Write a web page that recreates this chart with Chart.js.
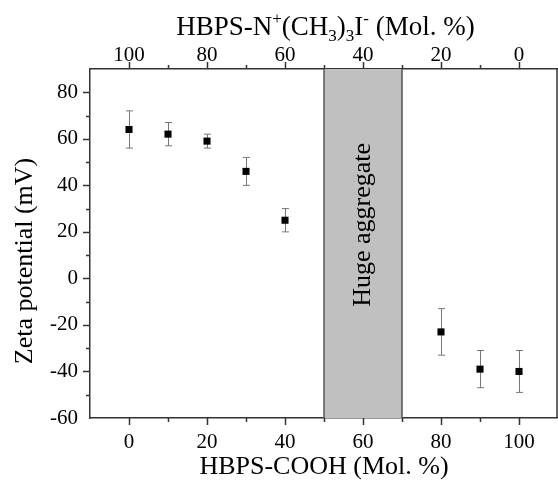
<!DOCTYPE html>
<html>
<head>
<meta charset="utf-8">
<script src="https://cdn.jsdelivr.net/npm/chart.js@4"></script>
<style>
  body { margin: 0; background: #fff; }
  #chartCanvas { display: block; }
</style>
</head>
<body>
<canvas id="chartCanvas" width="558" height="481"></canvas>
<script>
"use strict";

// HBPS-COOH content (Mol. %) and zeta potential (mV) with error
const cooh = [0, 10, 20, 30, 40, 80, 90, 100];
const zeta = [64, 62, 59, 46, 25, -23, -39, -40];
const zetaErr = [8, 5, 3, 6, 5, 10, 8, 9];

// shaded region where no measurement was possible
const aggregateRange = [50, 70];
const aggregateText = "Huge aggregate";

const xTickLabels = [0, 20, 40, 60, 80, 100];
const yTickLabels = [-60, -40, -20, 0, 20, 40, 60, 80];

const serif = '"Liberation Serif", "Times New Roman", serif';
const axisColor = "#333";

// draws tick marks pointing outward (major long, minor short)
const tickMarks = {
    id: "tickMarks",
    afterDraw(chart) {
        const ctx = chart.ctx;
        const a = chart.chartArea;
        ctx.save();
        ctx.strokeStyle = axisColor;
        ctx.lineWidth = 1.5;
        ["x", "x2", "y"].forEach(function (id) {
            const s = chart.scales[id];
            s.ticks.forEach(function (t) {
                const v = t.value;
                if (v <= s.min || v >= s.max) return;
                const len = (v % 20 === 0) ? 7 : 4;
                const p = Math.round(s.getPixelForValue(v)) + 0.5;
                ctx.beginPath();
                if (id === "x") { ctx.moveTo(p, a.bottom); ctx.lineTo(p, a.bottom + len); }
                else if (id === "x2") { ctx.moveTo(p, a.top); ctx.lineTo(p, a.top - len); }
                else { ctx.moveTo(a.left, p); ctx.lineTo(a.left - len, p); }
                ctx.stroke();
            });
        });
        // right frame line
        ctx.beginPath();
        ctx.moveTo(a.right - 1, a.top);
        ctx.lineTo(a.right - 1, a.bottom);
        ctx.stroke();
        ctx.restore();
    }
};

// shaded box and error bars, behind the points
const background = {
    id: "background",
    beforeDatasetsDraw(chart) {
        const ctx = chart.ctx;
        const a = chart.chartArea;
        const x = chart.scales.x, y = chart.scales.y;
        const x0 = x.getPixelForValue(aggregateRange[0]);
        const x1 = x.getPixelForValue(aggregateRange[1]);
        ctx.save();
        ctx.fillStyle = "#c0c0c0";
        ctx.fillRect(x0, a.top, x1 - x0, a.bottom - a.top);
        ctx.strokeStyle = "#555";
        ctx.lineWidth = 1.5;
        ctx.beginPath();
        ctx.moveTo(x0, a.top); ctx.lineTo(x0, a.bottom);
        ctx.moveTo(x1, a.top); ctx.lineTo(x1, a.bottom);
        ctx.stroke();

        ctx.translate((x0 + x1) / 2, y.getPixelForValue(23));
        ctx.rotate(-Math.PI / 2);
        ctx.fillStyle = "#000";
        ctx.font = "26px " + serif;
        ctx.textAlign = "center";
        ctx.textBaseline = "middle";
        ctx.fillText(aggregateText, 0, 0);
        ctx.restore();

        ctx.save();
        ctx.strokeStyle = "#777";
        ctx.lineWidth = 1;
        cooh.forEach(function (c, i) {
            const px = Math.round(x.getPixelForValue(c)) + 0.5;
            const top = y.getPixelForValue(zeta[i] + zetaErr[i]);
            const bot = y.getPixelForValue(zeta[i] - zetaErr[i]);
            ctx.beginPath();
            ctx.moveTo(px, top); ctx.lineTo(px, bot);
            ctx.moveTo(px - 3.5, top); ctx.lineTo(px + 3.5, top);
            ctx.moveTo(px - 3.5, bot); ctx.lineTo(px + 3.5, bot);
            ctx.stroke();
        });
        ctx.restore();
    }
};

// axis titles, the top one has sub/superscripts
const titles = {
    id: "titles",
    afterDraw(chart) {
        const ctx = chart.ctx;
        const a = chart.chartArea;
        ctx.save();
        ctx.fillStyle = "#000";
        ctx.font = "26px " + serif;
        ctx.textAlign = "center";
        ctx.textBaseline = "alphabetic";
        ctx.fillText("HBPS-COOH (Mol. %)", (a.left + a.right) / 2, 474);

        ctx.save();
        ctx.translate(32, 261);
        ctx.rotate(-Math.PI / 2);
        ctx.fillText("Zeta potential (mV)", 0, 0);
        ctx.restore();

        const parts = [
            ["HBPS-N", 0], ["+", 1], ["(CH", 0], ["3", -1], [")", 0],
            ["3", -1], ["I", 0], ["-", 1], [" (Mol. %)", 0]
        ];
        const big = "27px " + serif, small = "17px " + serif;
        let w = 0;
        parts.forEach(function (p) {
            ctx.font = p[1] === 0 ? big : small;
            w += ctx.measureText(p[0]).width;
        });
        let cx = 325.5 - w / 2;
        const base = 35;
        ctx.textAlign = "left";
        parts.forEach(function (p) {
            ctx.font = p[1] === 0 ? big : small;
            const dy = p[1] === 1 ? -11 : (p[1] === -1 ? 6 : 0);
            ctx.fillText(p[0], cx, base + dy);
            cx += ctx.measureText(p[0]).width;
        });
        ctx.restore();
    }
};

function labelEvery20(allowed) {
    return function (v) { return allowed.indexOf(v) >= 0 ? String(v) : ""; };
}

const tickFont = { family: serif, size: 21 };

const horizontalAxis = function (position, reverse, size, tickLength, padding) {
    return {
        type: "linear",
        position: position,
        reverse: reverse,
        min: -10,
        max: 110,
        ticks: {
            stepSize: 10,
            autoSkip: false,
            maxRotation: 0,
            color: "#000",
            font: tickFont,
            padding: padding,
            callback: labelEvery20(xTickLabels)
        },
        grid: { drawOnChartArea: false, drawTicks: true, tickLength: tickLength, color: "transparent", tickColor: "transparent" },
        border: { display: true, color: axisColor, width: 1.5 },
        afterFit: function (s) {
            s.height = size;
            s.paddingLeft = 0;
            s.paddingRight = 0;
        }
    };
};

const ctx = document.getElementById("chartCanvas");

new Chart(ctx, {
    type: "scatter",
    data: {
        datasets: [{
            data: cooh.map(function (c, i) { return { x: c, y: zeta[i] }; }),
            pointStyle: "rect",
            pointRadius: 5,
            backgroundColor: "#000",
            borderWidth: 0
        }]
    },
    options: {
        responsive: false,
        devicePixelRatio: 1,
        animation: false,
        layout: { padding: 0, autoPadding: false },
        plugins: { legend: { display: false }, tooltip: { enabled: false } },
        scales: {
            x: horizontalAxis("bottom", false, 63, 7, 5),
            x2: horizontalAxis("top", true, 69, 0, 1),
            y: {
                type: "linear",
                position: "left",
                min: -60,
                max: 90,
                ticks: {
                    stepSize: 10,
                    autoSkip: false,
                    color: "#000",
                    font: tickFont,
                    padding: 5,
                    callback: labelEvery20(yTickLabels)
                },
                grid: { drawOnChartArea: false, drawTicks: true, tickLength: 7, color: "transparent", tickColor: "transparent" },
                border: { display: true, color: axisColor, width: 1.5 },
                afterFit: function (s) { s.width = 90; }
            }
        }
    },
    plugins: [background, tickMarks, titles]
});
</script>
</body>
</html>
